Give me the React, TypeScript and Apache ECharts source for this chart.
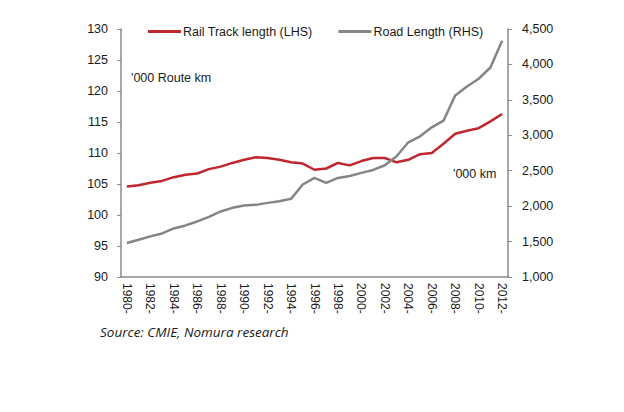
import React, { useEffect, useRef } from "react";
import * as echarts from "echarts";

const years = Array.from({ length: 33 }, (_, i) => `${1980 + i}-`);
const railTrack = [
  104.6, 104.8, 105.2, 105.5, 106.1, 106.5, 106.7, 107.4, 107.8, 108.4, 108.9,
  109.3, 109.2, 108.9, 108.5, 108.3, 107.3, 107.5, 108.4, 108.0, 108.7, 109.2,
  109.2, 108.5, 108.9, 109.8, 110.0, 111.5, 113.1, 113.6, 114.0, 115.1, 116.3,
];
const roadLength = [
  1480, 1525, 1573, 1615, 1685, 1728, 1784, 1849, 1925, 1976, 2009, 2018, 2046,
  2070, 2103, 2305, 2398, 2328, 2398, 2426, 2469, 2511, 2577, 2704, 2901, 2985,
  3112, 3206, 3563, 3689, 3798, 3957, 4333,
];
const seriesNames = ["Rail Track length (LHS)", "Road Length (RHS)"];

const AXIS_GREY = "#8a8a8a";
const TEXT = "#1a1a1a";
const FONT = "'Liberation Sans', Arial, sans-serif";

export default function App() {
  const ref = useRef<HTMLDivElement>(null);
  useEffect(() => {
    if (!ref.current) return;
    const chart = echarts.init(ref.current, null, { renderer: "svg" });
    chart.setOption({
      animation: false,
      backgroundColor: "#ffffff",
      textStyle: { fontFamily: FONT },
      legend: {
        left: 143,
        top: 20,
        itemGap: 26,
        itemWidth: 33,
        itemHeight: 3,
        icon: "rect",
        textStyle: { fontSize: 12.5, color: TEXT, fontFamily: FONT, padding: [0, 0, 0, -3] },
        data: seriesNames,
      },
      grid: { left: 121, right: 116, top: 29, bottom: 135 },
      xAxis: {
        type: "category",
        data: years,
        boundaryGap: true,
        axisLine: { lineStyle: { color: AXIS_GREY, width: 1.5 } },
        axisTick: { interval: 0, length: 4, lineStyle: { color: AXIS_GREY } },
        axisLabel: {
          interval: 1,
          rotate: -90,
          margin: 6,
          fontSize: 12,
          color: TEXT,
          fontFamily: FONT,
        },
      },
      yAxis: [
        {
          type: "value",
          min: 90,
          max: 130,
          interval: 5,
          position: "left",
          splitLine: { show: false },
          axisLine: { show: true, lineStyle: { color: AXIS_GREY, width: 1.5 } },
          axisTick: { show: true, length: 4, lineStyle: { color: AXIS_GREY } },
          axisLabel: { fontSize: 12.5, color: TEXT, margin: 13, fontFamily: FONT },
        },
        {
          type: "value",
          min: 1000,
          max: 4500,
          interval: 500,
          position: "right",
          splitLine: { show: false },
          axisLine: { show: true, lineStyle: { color: AXIS_GREY, width: 1.5 } },
          axisTick: { show: true, length: 4, lineStyle: { color: AXIS_GREY } },
          axisLabel: {
            fontSize: 12.5,
            color: TEXT,
            margin: 14,
            fontFamily: FONT,
            formatter: (v: number) => v.toLocaleString("en-US"),
          },
        },
      ],
      series: [
        {
          name: seriesNames[0],
          type: "line",
          yAxisIndex: 0,
          data: railTrack,
          symbol: "none",
          lineStyle: { color: "#c0262d", width: 2.5 },
          itemStyle: { color: "#c0262d" },
        },
        {
          name: seriesNames[1],
          type: "line",
          yAxisIndex: 1,
          data: roadLength,
          symbol: "none",
          lineStyle: { color: "#858585", width: 2.5 },
          itemStyle: { color: "#858585" },
        },
      ],
      graphic: [
        {
          type: "text",
          left: 131,
          top: 71,
          style: { text: "'000 Route km", fontSize: 12.5, fill: TEXT, fontFamily: FONT },
        },
        {
          type: "text",
          left: 453,
          top: 167,
          style: { text: "'000 km", fontSize: 12.5, fill: TEXT, fontFamily: FONT },
        },
        {
          type: "text",
          left: 100,
          top: 325,
          style: {
            text: "Source: CMIE, Nomura research",
            fontSize: 13.5,
            fontStyle: "italic",
            fill: TEXT,
            fontFamily: "'Open Sans', sans-serif",
          },
        },
      ],
    });
    return () => chart.dispose();
  }, []);
  return <div ref={ref} style={{ width: 624, height: 412, position: "absolute", left: 0, top: 0 }} />;
}
